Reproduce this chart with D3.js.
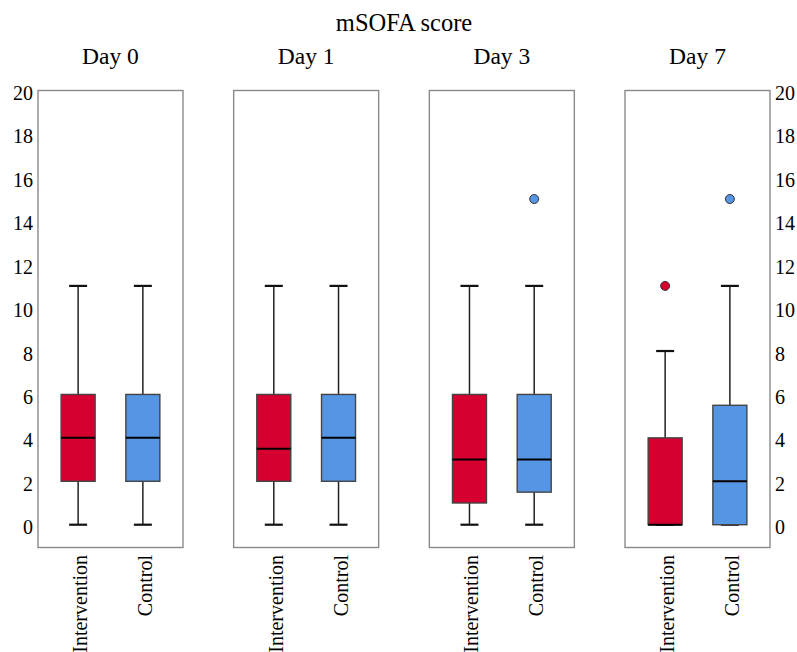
<!DOCTYPE html>
<html>
<head>
<meta charset="utf-8">
<script src="https://cdn.jsdelivr.net/npm/d3@7"></script>
<style>
  body { margin: 0; background: #fff; }
  text { font-family: "Liberation Serif", "DejaVu Serif", serif; fill: #000; }
</style>
</head>
<body>
<div id="chart"></div>
<script>
  "use strict";

  /* <!-- Data --> */
  var days = ["Day 0", "Day 1", "Day 3", "Day 7"];
  var groups = ["Intervention", "Control"];
  var yTicks = [0, 2, 4, 6, 8, 10, 12, 14, 16, 18, 20];

  // [min, q1, median, q3, max] per day
  var intervention = [
    [0, 2, 4, 6, 11],
    [0, 2, 3.5, 6, 11],
    [0, 1, 3, 6, 11],
    [0, 0, 0, 4, 8]
  ];
  var control = [
    [0, 2, 4, 6, 11],
    [0, 2, 4, 6, 11],
    [0, 1.5, 3, 6, 11],
    [0, 0, 2, 5.5, 11]
  ];
  var interventionOutliers = [[], [], [], [11]];
  var controlOutliers = [[], [], [15], [15]];

  var colors = { Intervention: "#d60030", Control: "#5596e4" };

  /* <!-- Layout --> */
  var W = 797, H = 652;
  var svg = d3.select("#chart").append("svg").attr("width", W).attr("height", H);

  var panelX = d3.scaleBand().domain(days).range([38, 770]).paddingInner(0.259).paddingOuter(0);
  var y = d3.scaleLinear().domain([-1.05, 20]).range([547.5, 90.5]);
  var x = d3.scalePoint().domain(groups).range([0, panelX.bandwidth()]).padding(0.62);
  var boxW = 34, capW = 18;

  svg.append("text").attr("x", 404).attr("y", 31).attr("text-anchor", "middle")
    .style("font-size", "24.5px").text("mSOFA score");

  /* <!-- Axes --> */
  var left = svg.append("g").attr("transform", `translate(${panelX(days[0])},0)`)
    .call(d3.axisLeft(y).tickValues(yTicks).tickSize(0).tickPadding(5));
  var right = svg.append("g").attr("transform", `translate(${panelX(days[3]) + panelX.bandwidth()},0)`)
    .call(d3.axisRight(y).tickValues(yTicks).tickSize(0).tickPadding(5));
  [left, right].forEach(g => {
    g.select(".domain").remove();
    g.selectAll("text").attr("dy", "0.45em")
      .style("font-size", "20px").style("font-family", "Liberation Serif, serif");
  });

  /* <!-- Panels --> */
  days.forEach((day, i) => {
    var g = svg.append("g").attr("transform", `translate(${panelX(day)},0)`);

    g.append("text").attr("x", panelX.bandwidth() / 2).attr("y", 64).attr("text-anchor", "middle")
      .style("font-size", "23.5px").text(day);

    g.append("rect").attr("x", 0).attr("y", y(20)).attr("width", panelX.bandwidth())
      .attr("height", y(-1.05) - y(20)).attr("fill", "none").attr("stroke", "#8a8a8a").attr("stroke-width", 1.4);

    var stats = { Intervention: intervention[i], Control: control[i] };
    var outs = { Intervention: interventionOutliers[i], Control: controlOutliers[i] };

    groups.forEach(grp => {
      var s = stats[grp], cx = x(grp);
      // whiskers
      g.append("line").attr("x1", cx).attr("x2", cx).attr("y1", y(s[0])).attr("y2", y(s[1]))
        .attr("stroke", "#222").attr("stroke-width", 1.5);
      g.append("line").attr("x1", cx).attr("x2", cx).attr("y1", y(s[3])).attr("y2", y(s[4]))
        .attr("stroke", "#222").attr("stroke-width", 1.5);
      [s[0], s[4]].forEach(v => g.append("line")
        .attr("x1", cx - capW / 2).attr("x2", cx + capW / 2).attr("y1", y(v)).attr("y2", y(v))
        .attr("stroke", "#111").attr("stroke-width", 2.2));
      // box
      g.append("rect").attr("x", cx - boxW / 2).attr("y", y(s[3])).attr("width", boxW)
        .attr("height", Math.max(y(s[1]) - y(s[3]), 0))
        .attr("fill", colors[grp]).attr("stroke", "#444").attr("stroke-width", 1.4);
      // median
      g.append("line").attr("x1", cx - boxW / 2).attr("x2", cx + boxW / 2).attr("y1", y(s[2])).attr("y2", y(s[2]))
        .attr("stroke", "#000").attr("stroke-width", 2);
      // outliers
      g.selectAll(null).data(outs[grp]).enter().append("circle")
        .attr("cx", cx).attr("cy", d => y(d)).attr("r", 4.5)
        .attr("fill", colors[grp]).attr("stroke", "#333").attr("stroke-width", 1);
      // category label
      g.append("text").attr("transform", `translate(${cx + 9},555) rotate(-90)`)
        .attr("text-anchor", "end").style("font-size", "20px").text(grp);
    });
  });
</script>
</body>
</html>
